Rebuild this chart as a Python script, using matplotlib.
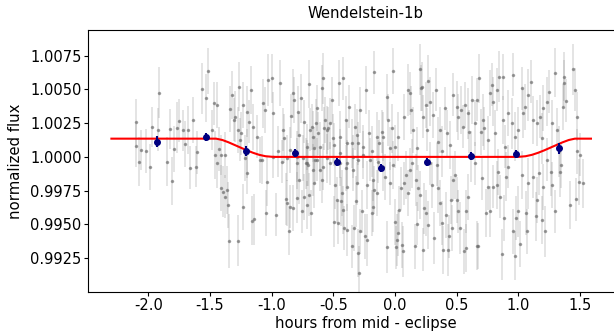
import numpy as np
import matplotlib
matplotlib.use('Agg')
import matplotlib.pyplot as plt

plt.rcParams['axes.unicode_minus'] = False

# ---- unbinned photometry, errors in units of 1e-4 ----
# pre-eclipse
xa = [-2.097, -2.100, -2.064, -2.075, -2.016, -1.989, -1.970, -1.913,
      -1.921, -1.853, -1.821, -1.794, -1.753, -1.764, -1.718, -1.705,
      -1.677, -1.661, -1.642, -1.612, -1.602, -1.567, -1.534, -1.520,
      -1.488, -1.469, -1.461, -1.442, -1.429, -1.415, -1.380, -1.805]
ya = [1.00257, 1.00084, 1.00052, 0.99965, 1.00044, 0.99928, 1.00220, 1.00476,
      1.00200, 0.99965, 1.00207, 1.00057, 1.00269, 1.00217, 1.00197, 1.00096,
      1.00200, 0.99921, 1.00271, 0.99928, 1.00035, 1.00505, 1.00436, 1.00636,
      1.00200, 1.00397, 1.00015, 1.00385, 1.00059, 1.00013, 1.00013, 0.99822]
ea = [17, 16, 15, 18, 16, 17, 15, 19, 16, 18, 15, 17, 16, 19, 15, 17,
      18, 16, 17, 15, 16, 19, 18, 17, 15, 16, 18, 17, 16, 15, 17, 18]

# ingress / first half, low points
xb = [-1.447, -1.407, -1.394, -1.380, -1.366, -1.353, -1.347, -1.274,
      -1.236, -1.201, -1.158, -1.142, -1.050, -1.037, -0.966, -0.887,
      -0.879, -0.863, -0.852, -0.831, -0.798, -0.777, -0.757, -0.739,
      -0.712, -0.695, -0.684, -0.663, -0.655, -0.609, -0.593, -0.493,
      -0.484, -0.474, -0.465, -0.436, -0.292]
yb = [0.99953, 0.99768, 0.99743, 0.99706, 0.99756, 0.99645, 0.99374, 0.99381,
      0.99632, 0.99884, 0.99527, 0.99539, 0.99584, 0.99817, 0.99571, 0.99689,
      0.99658, 0.99453, 0.99632, 0.99620, 0.99699, 0.99830, 0.99596, 0.99706,
      0.99645, 0.99719, 0.99584, 0.99904, 0.99805, 0.99904, 0.99830, 0.99521,
      0.99793, 0.99682, 0.99514, 0.99670, 0.99140]
eb = [18, 17, 19, 16, 18, 17, 20, 19, 17, 16, 18, 19, 17, 18, 16, 19,
      17, 18, 16, 17, 19, 18, 16, 17, 18, 16, 17, 19, 18, 16, 17, 19,
      18, 17, 16, 18, 20]

# ingress / first half, high points
xc = [-1.339, -1.318, -1.304, -1.299, -1.277, -1.264, -1.245, -1.231,
      -1.204, -1.182, -1.164, -1.155, -1.123, -1.069, -1.055, -1.028,
      -1.001, -0.988, -0.933, -0.947, -0.906, -0.898, -0.852, -0.844,
      -0.825, -0.820, -0.790, -0.777, -0.763, -0.744, -0.739, -0.725,
      -0.717, -0.698, -0.690, -0.671, -0.663, -0.655, -0.641, -0.631,
      -0.623, -0.609, -0.593, -0.587, -0.576, -0.568, -0.554, -0.546,
      -0.528, -0.514, -0.506, -0.493, -0.452, -0.446, -0.420, -0.398,
      -0.387, -0.371, -0.352, -0.325, -0.311, -0.298]
yc = [1.00353, 1.00459, 1.00274, 1.00298, 1.00200, 1.00520, 1.00175, 1.00385,
      1.00335, 1.00261, 1.00496, 1.00224, 1.00150, 1.00397, 1.00348, 1.00570,
      1.00582, 1.00323, 1.00550, 1.00040, 1.00200, 1.00138, 1.00052, 1.00303,
      1.00471, 1.00422, 1.00335, 1.00163, 1.00434, 0.99990, 1.00261, 0.99953,
      1.00076, 1.00540, 1.00200, 1.00224, 1.00150, 1.00064, 1.00249, 1.00360,
      1.00175, 1.00076, 1.00508, 1.00582, 1.00212, 1.00274, 1.00200, 1.00212,
      1.00249, 1.00422, 1.00138, 1.00089, 1.00545, 1.00150, 1.00582, 1.00274,
      1.00101, 1.00372, 1.00101, 1.00224, 1.00163, 1.00101]
ec = [17, 18, 16, 19, 17, 18, 16, 17, 19, 16, 18, 17, 16, 18, 17, 19,
      18, 16, 17, 19, 16, 18, 17, 16, 18, 17, 19, 16, 18, 17, 16, 19,
      17, 18, 16, 17, 19, 16, 18, 17, 16, 18, 17, 19, 16, 17, 18, 16,
      19, 17, 18, 16, 17, 19, 16, 18, 17, 16, 18, 17, 19, 16]

# points close to the model line
xd = [-1.258, -1.218, -1.082, -0.920, -0.879, -0.798, -0.704, -0.649,
      -0.582, -0.528, -0.446, -0.392, -0.338, -1.204, -1.096, -0.988,
      -0.798, -0.717, -0.636, -0.554, -0.446, -0.338, -0.298]
yd = [1.00126, 0.99990, 0.99978, 0.99965, 0.99990, 0.99953, 0.99941, 0.99978,
      0.99928, 0.99953, 1.00027, 0.99953, 1.00002, 1.00027, 0.99978, 1.00002,
      1.00002, 0.99953, 0.99978, 0.99990, 0.99953, 0.99904, 0.99978]
ed = [16, 17, 18, 16, 17, 19, 16, 18, 17, 16, 18, 17, 16, 18, 17, 16,
      19, 17, 16, 18, 17, 16, 18]

# second half, high points
xe = [-0.284, -0.257, -0.235, -0.209, -0.189, -0.168, -0.149, -0.127,
      -0.108, -0.095, -0.062, -0.054, -0.041, -0.027, -0.019, 0.000,
      0.027, 0.076, 0.103, 0.122, 0.127, 0.149, 0.176, 0.203,
      0.208, 0.216, 0.230, 0.252, 0.271, 0.262, 0.284, 0.311,
      0.333, 0.346, 0.365, 0.379, 0.406, 0.419, 0.446, 0.473,
      0.500, 0.514, 0.533, 0.549, 0.568, 0.595, 0.603, 0.622,
      0.649, 0.663, 0.684, 0.696, 0.717, 0.722, 0.757, 0.771,
      0.785, 0.798, 0.814, 0.825, 0.847, 0.874, 0.879, 0.893,
      0.920, 0.947, 0.958, 0.974, 1.001, 1.028, 1.041, 1.055,
      1.082, 1.104, 1.118, 1.150, 1.177, 1.191, 1.204, 1.236,
      1.250, 1.272, 1.299, 1.317, 1.334, 1.361, 1.372, 1.385,
      1.372, 1.448, 1.461, 1.475, 1.480, 1.502]
ye = [1.00348, 1.00076, 1.00496, 1.00175, 1.00040, 1.00626, 1.00150, 1.00101,
      1.00187, 1.00150, 1.00441, 1.00274, 1.00064, 1.00212, 1.00636, 1.00076,
      1.00150, 1.00298, 1.00496, 1.00471, 1.00348, 1.00200, 1.00064, 1.00649,
      1.00508, 1.00520, 1.00298, 1.00385, 1.00562, 1.00200, 1.00409, 1.00311,
      1.00496, 1.00113, 1.00200, 1.00040, 1.00360, 1.00175, 1.00089, 1.00459,
      1.00372, 1.00298, 1.00348, 1.00224, 1.00385, 1.00323, 1.00187, 1.00422,
      1.00249, 1.00422, 1.00582, 1.00187, 1.00274, 1.00212, 1.00126, 1.00471,
      1.00533, 1.00409, 1.00175, 1.00496, 1.00594, 1.00594, 1.00274, 1.00076,
      1.00323, 1.00249, 1.00607, 1.00150, 1.00200, 1.00508, 1.00323, 1.00372,
      1.00459, 1.00557, 1.00274, 1.00249, 1.00298, 1.00138, 1.00360, 1.00409,
      1.00483, 1.00249, 1.00624, 1.00200, 1.00040, 1.00372, 1.00594, 1.00416,
      1.00545, 1.00649, 1.00496, 1.00298, 1.00040, 1.00015]
ee = [17, 16, 18, 17, 19, 16, 18, 17, 16, 18, 17, 19, 16, 18, 17, 16,
      18, 17, 19, 16, 18, 17, 16, 19, 17, 18, 16, 17, 19, 16, 18, 17,
      16, 18, 17, 19, 16, 17, 18, 16, 19, 17, 18, 16, 17, 19, 16, 18,
      17, 16, 18, 17, 19, 16, 18, 17, 16, 18, 17, 16, 19, 17, 18, 16,
      17, 19, 16, 18, 17, 16, 18, 17, 19, 16, 18, 17, 16, 19, 17, 18,
      16, 17, 18, 16, 19, 17, 18, 16, 17, 19, 16, 18, 17, 16]

# second half, low points
xf = [-0.433, -0.425, -0.414, -0.392, -0.398, -0.387, -0.352, -0.330,
      -0.317, -0.306, -0.298, -0.284, -0.270, -0.257, -0.244, -0.230,
      -0.225, -0.203, -0.189, -0.181, -0.176, -0.168, -0.149, -0.135,
      -0.095, -0.081, -0.062, -0.041, -0.014, 0.000, 0.008, 0.019,
      0.027, 0.035, 0.046, 0.054, 0.068, 0.073, 0.089, 0.108,
      0.122, 0.135, 0.162, 0.170, 0.181, 0.189, 0.203, 0.230,
      0.238, 0.252, 0.271, 0.284, 0.298, 0.317, 0.338, 0.352,
      0.365, 0.379, 0.392, 0.414, 0.428, 0.441, 0.455, 0.463,
      0.473, 0.487, 0.500, 0.514, 0.528, 0.560, 0.574, 0.576,
      0.595, 0.614, 0.649, 0.668, 0.676, 0.704, 0.739, 0.757,
      0.771, 0.798, 0.825, 0.839, 0.852, 0.871, 0.887, 0.898,
      0.920, 0.960, 0.977, 0.982, 1.001, 1.015, 1.028, 1.061,
      1.069, 1.082, 1.118, 1.144, 1.150, 1.171, 1.191, 1.204,
      1.218, 1.236, 1.266, 1.277, 1.299, 1.339, 1.345, 1.420,
      1.467, 1.496, 1.523]
yf = [0.99731, 0.99608, 0.99473, 0.99460, 0.99916, 0.99780, 0.99337, 0.99473,
      0.99670, 0.99805, 0.99288, 0.99448, 0.99596, 1.00015, 0.99411, 0.99386,
      0.99793, 0.99978, 0.99584, 0.99632, 0.99830, 0.99756, 0.99731, 0.99965,
      0.99928, 0.99854, 0.99332, 0.99805, 0.99941, 0.99521, 0.99332, 0.99386,
      0.99436, 0.99608, 0.99768, 0.99349, 0.99300, 0.99805, 0.99867, 0.99731,
      0.99904, 0.99953, 0.99337, 0.99830, 0.99507, 0.99768, 0.99719, 0.99312,
      0.99620, 0.99584, 0.99497, 0.99953, 0.99793, 0.99399, 0.99941, 0.99768,
      0.99658, 0.99510, 0.99312, 0.99571, 0.99312, 0.99411, 0.99682, 0.99473,
      0.99830, 0.99867, 0.99682, 0.99596, 0.99473, 0.99300, 0.99325, 0.99596,
      0.99706, 1.00002, 0.99953, 0.99344, 0.99342, 0.99842, 0.99584, 0.99780,
      0.99596, 0.99780, 0.99793, 0.99891, 0.99706, 0.99280, 0.99547, 0.99854,
      0.99928, 0.99448, 0.99268, 0.99547, 0.99596, 0.99357, 0.99867, 0.99584,
      0.99448, 0.99805, 0.99854, 0.99559, 0.99682, 0.99879, 0.99534, 0.99780,
      0.99448, 0.99978, 0.99891, 0.99793, 0.99596, 0.99891, 0.99941, 0.99645,
      0.99687, 0.99817, 0.99805]
ef = [17, 18, 16, 19, 17, 18, 16, 17, 19, 16, 18, 17, 16, 18, 17, 19,
      18, 16, 17, 19, 16, 18, 17, 16, 18, 17, 19, 16, 18, 17, 16, 19,
      17, 18, 16, 17, 19, 16, 18, 17, 16, 18, 17, 19, 16, 17, 18, 16,
      19, 17, 18, 16, 17, 19, 16, 18, 17, 16, 18, 17, 19, 16, 18, 17,
      16, 18, 17, 16, 19, 17, 18, 16, 17, 19, 16, 18, 17, 16, 18, 17,
      19, 16, 18, 17, 16, 19, 17, 18, 16, 17, 18, 16, 19, 17, 18, 16,
      17, 19, 16, 18, 17, 16, 18, 17, 19, 16, 18, 17, 16, 19, 17, 18,
      16, 17, 18]

# ---- binned points ----
bin_x = [-1.93, -1.535, -1.21, -0.81, -0.47, -0.116, 0.26, 0.614, 0.985, 1.33]
bin_y = [1.00113, 1.00148, 1.00044, 1.00027, 0.99961, 0.99920, 0.99961,
         1.00007, 1.00022, 1.00064]
bin_err = [0.0004, 0.0003, 0.00035, 0.0003, 0.0003, 0.0003, 0.0003,
           0.0003, 0.0003, 0.0004]

# ---- eclipse model ----
model_x = [-2.30, -1.45, -1.40, -1.35, -1.30, -1.25, -1.20, -1.15, -1.10,
           -1.05, -1.00, -0.97, 0.98, 1.01, 1.06, 1.11, 1.16, 1.21, 1.26,
           1.31, 1.36, 1.41, 1.46, 1.59]
model_y = [1.00135, 1.00135, 1.00125, 1.00108, 1.00088, 1.00068, 1.00048,
           1.00030, 1.00015, 1.00005, 1.00001, 1.00000, 1.00000, 1.00001,
           1.00005, 1.00015, 1.00030, 1.00048, 1.00068, 1.00088, 1.00108,
           1.00125, 1.00135, 1.00135]

gx = np.array(xa + xb + xc + xd + xe + xf)
gy = np.array(ya + yb + yc + yd + ye + yf)
ge = np.array(ea + eb + ec + ed + ee + ef) * 1e-4

fig = plt.figure(figsize=(6.14, 3.31), dpi=100)
# axes runs past the right edge of the picture, as in the reference crop
ax = fig.add_axes([0.1433, 0.1178, 0.9055, 0.7915])

ax.errorbar(gx, gy, yerr=ge, fmt='none', ecolor='gray', elinewidth=1.2,
            alpha=0.25, zorder=1)
ax.plot(gx, gy, 'o', color='dimgray', ms=1.5, alpha=0.55, zorder=2)
ax.plot(model_x, model_y, color='red', lw=1.5, zorder=3)
ax.errorbar(bin_x, bin_y, yerr=bin_err, fmt='o', color='navy', ms=4,
            elinewidth=1.5, zorder=4)

ax.set_xlim(-2.49, 2.02)
ax.set_ylim(0.9900, 1.00939)
ax.set_xticks([-2.0, -1.5, -1.0, -0.5, 0.0, 0.5, 1.0, 1.5])
ax.set_yticks([0.9925, 0.9950, 0.9975, 1.0000, 1.0025, 1.0050, 1.0075])
ax.tick_params(labelsize=10.5, length=3, pad=1.5)
ax.set_xlabel('hours from mid - eclipse', fontsize=10.7, labelpad=2)
ax.set_ylabel('normalized flux', fontsize=10.7, labelpad=5)
ax.set_title('Wendelstein-1b', fontsize=10.7, pad=9)

plt.savefig('out.png', dpi=100)
